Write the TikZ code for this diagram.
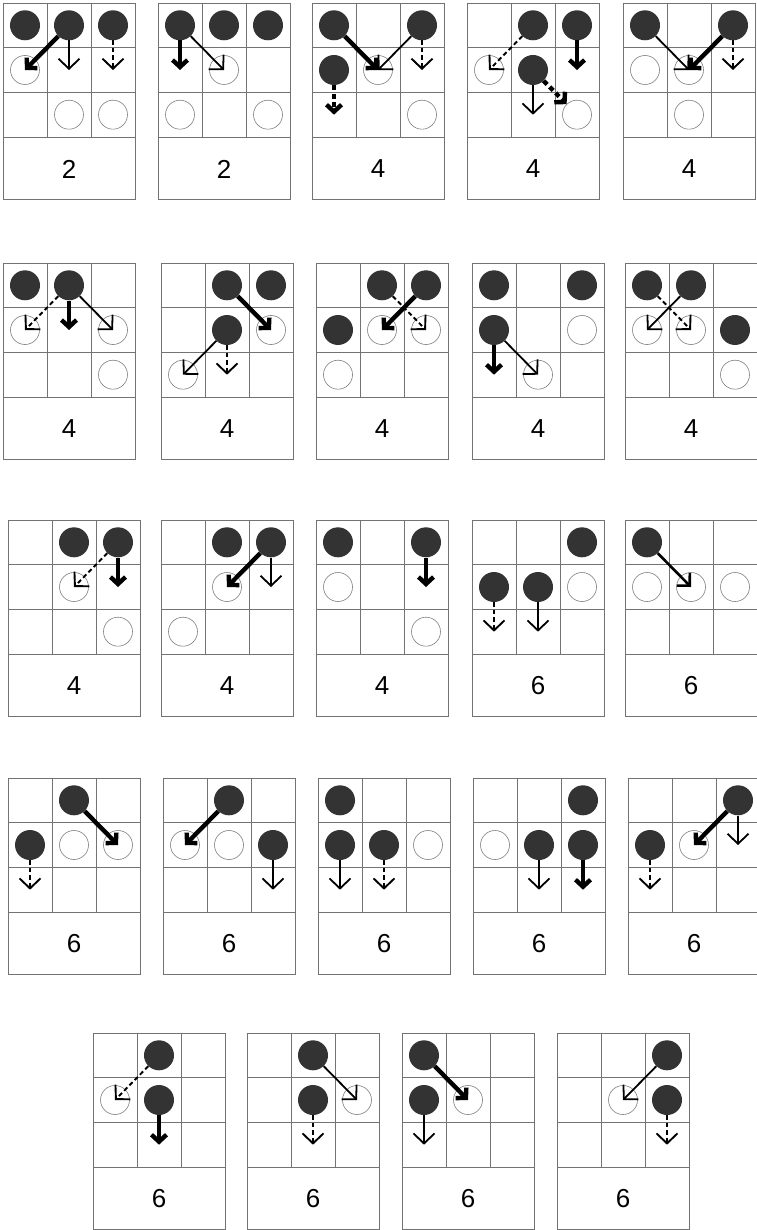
\documentclass[tikz,border=0pt]{standalone}
\usepackage{fontspec}
\setmainfont{Liberation Sans}
\usetikzlibrary{arrows.meta}
\tikzset{
  gridline/.style={draw=black!55,line width=0.8pt},
  bcirc/.style={circle,fill=black!80,minimum size=30pt,inner sep=0pt},
  wcirc/.style={circle,draw=black!50,line width=0.6pt,fill=white,minimum size=29pt,inner sep=0pt},
  lbl/.style={font=\fontsize{26}{30}\selectfont},
  thk/.style={line width=4.4pt,-{Straight Barb[length=7pt,width=15pt]}},
  med/.style={line width=2.6pt,-{Straight Barb[length=9pt,width=18pt]}},
  thn/.style={line width=1.8pt,-{Straight Barb[length=10pt,width=21pt]}},
  dsh/.style={line width=1.9pt,dash pattern=on 4.5pt off 3pt,-{Straight Barb[length=10pt,width=21pt]}},
  tdsh/.style={line width=4.4pt,dash pattern=on 5pt off 3.5pt,-{Straight Barb[length=7pt,width=15pt]}},
}
\newcommand\pgrid[1]{%
  \draw[gridline] (0,0) rectangle (132,196);
  \draw[gridline] (44,0) -- (44,134) (88,0) -- (88,134)
    (0,44.5) -- (132,44.5) (0,89) -- (132,89) (0,134) -- (132,134);
  \foreach \i in {0,1,2}{\foreach \j in {0,1,2}{%
    \coordinate (c\i\j) at ({22+44*\i},{22.3+44.7*\j});}}
  \node[lbl] (num) at (66,166) {#1};
}
\newcommand\Bk[2]{\node[bcirc] (b#1#2) at (c#1#2) {};}
\newcommand\Wh[2]{\node[wcirc] (w#1#2) at (c#1#2) {};}
\begin{document}
\begin{tikzpicture}[x=1pt,y=-1pt]
\fill[white] (0,0) rectangle (756,1230);
\useasboundingbox (0,0) rectangle (756,1230);
% ---------- row 1
\begin{scope}[shift={(3,3)},name prefix=p1-]\pgrid{2}
 \Wh01\Wh12\Wh22 \Bk00\Bk10\Bk20
 \draw[thk] (b10) -- (c01); \draw[thn] (b10) -- (c11); \draw[dsh] (b20) -- (c21);
\end{scope}
\begin{scope}[shift={(158,3)},name prefix=p2-]\pgrid{2}
 \Wh11\Wh02\Wh22 \Bk00\Bk10\Bk20
 \draw[thk] (b00) -- (c01); \draw[thn] (b00) -- (c11);
\end{scope}
\begin{scope}[shift={(312,3)},name prefix=p3-]\pgrid{4}
 \Wh11\Wh22 \Bk00\Bk20\Bk01
 \draw[thk] (b00) -- (c11); \draw[thn] (b20) -- (c11); \draw[dsh] (b20) -- (c21);
 \draw[tdsh] (b01) -- (c02);
\end{scope}
\begin{scope}[shift={(467,3)},name prefix=p4-]\pgrid{4}
 \Wh01\Wh22 \Bk10\Bk20\Bk11
 \draw[dsh] (b10) -- (c01); \draw[thk] (b20) -- (c21); \draw[thn] (b11) -- (c12);
 \draw[tdsh] (b11) -- (w22);
\end{scope}
\begin{scope}[shift={(623,3)},name prefix=p5-]\pgrid{4}
 \Wh01\Wh11\Wh12 \Bk00\Bk20
 \draw[thn] (b00) -- (c11); \draw[thk] (b20) -- (c11); \draw[dsh] (b20) -- (c21);
\end{scope}
% ---------- row 2
\begin{scope}[shift={(3,263)},name prefix=p6-]\pgrid{4}
 \Wh01\Wh21\Wh22 \Bk00\Bk10
 \draw[dsh] (b10) -- (c01); \draw[thk] (b10) -- (c11); \draw[thn] (b10) -- (c21);
\end{scope}
\begin{scope}[shift={(161,263)},name prefix=p7-]\pgrid{4}
 \Wh21\Wh02 \Bk10\Bk20\Bk11
 \draw[thk] (b10) -- (c21); \draw[thn] (b11) -- (c02); \draw[dsh] (b11) -- (c12);
\end{scope}
\begin{scope}[shift={(316,263)},name prefix=p8-]\pgrid{4}
 \Wh11\Wh21\Wh02 \Bk10\Bk20\Bk01
 \draw[dsh] (b10) -- (c21); \draw[thk] (b20) -- (c11);
\end{scope}
\begin{scope}[shift={(472,263)},name prefix=p9-]\pgrid{4}
 \Wh21\Wh12 \Bk00\Bk20\Bk01
 \draw[thk] (b01) -- (c02); \draw[thn] (b01) -- (c12);
\end{scope}
\begin{scope}[shift={(625,263)},name prefix=p10-]\pgrid{4}
 \Wh01\Wh11\Wh22 \Bk00\Bk10\Bk21
 \draw[dsh] (b00) -- (c11); \draw[thn] (b10) -- (c01);
\end{scope}
% ---------- row 3
\begin{scope}[shift={(8,520)},name prefix=p11-]\pgrid{4}
 \Wh11\Wh22 \Bk10\Bk20
 \draw[dsh] (b20) -- (c11); \draw[thk] (b20) -- (c21);
\end{scope}
\begin{scope}[shift={(161,520)},name prefix=p12-]\pgrid{4}
 \Wh11\Wh02 \Bk10\Bk20
 \draw[thk] (b20) -- (c11); \draw[thn] (b20) -- (c21);
\end{scope}
\begin{scope}[shift={(316,520)},name prefix=p13-]\pgrid{4}
 \Wh01\Wh22 \Bk00\Bk20
 \draw[thk] (b20) -- (c21);
\end{scope}
\begin{scope}[shift={(472,520)},name prefix=p14-]\pgrid{6}
 \Wh21 \Bk20\Bk01\Bk11
 \draw[dsh] (b01) -- (c02); \draw[thn] (b11) -- (c12);
\end{scope}
\begin{scope}[shift={(625,520)},name prefix=p15-]\pgrid{6}
 \Wh01\Wh11\Wh21 \Bk00
 \draw[med] (b00) -- (c11);
\end{scope}
% ---------- row 4
\begin{scope}[shift={(8,778)},name prefix=p16-]\pgrid{6}
 \Wh11\Wh21 \Bk10\Bk01
 \draw[thk] (b10) -- (c21); \draw[dsh] (b01) -- (c02);
\end{scope}
\begin{scope}[shift={(163,778)},name prefix=p17-]\pgrid{6}
 \Wh01\Wh11 \Bk10\Bk21
 \draw[thk] (b10) -- (c01); \draw[thn] (b21) -- (c22);
\end{scope}
\begin{scope}[shift={(318,778)},name prefix=p18-]\pgrid{6}
 \Wh21 \Bk00\Bk01\Bk11
 \draw[thn] (b01) -- (c02); \draw[dsh] (b11) -- (c12);
\end{scope}
\begin{scope}[shift={(473,778)},name prefix=p19-]\pgrid{6}
 \Wh01 \Bk20\Bk11\Bk21
 \draw[thn] (b11) -- (c12); \draw[thk] (b21) -- (c22);
\end{scope}
\begin{scope}[shift={(628,778)},name prefix=p20-]\pgrid{6}
 \Wh11 \Bk20\Bk01
 \draw[thk] (b20) -- (c11); \draw[thn] (b20) -- (c21); \draw[dsh] (b01) -- (c02);
\end{scope}
% ---------- row 5
\begin{scope}[shift={(93,1033)},name prefix=p21-]\pgrid{6}
 \Wh01 \Bk10\Bk11
 \draw[dsh] (b10) -- (c01); \draw[thk] (b11) -- (c12);
\end{scope}
\begin{scope}[shift={(247,1033)},name prefix=p22-]\pgrid{6}
 \Wh21 \Bk10\Bk11
 \draw[thn] (b10) -- (c21); \draw[dsh] (b11) -- (c12);
\end{scope}
\begin{scope}[shift={(402,1033)},name prefix=p23-]\pgrid{6}
 \Wh11 \Bk00\Bk01
 \draw[thk] (b00) -- (c11); \draw[thn] (b01) -- (c02);
\end{scope}
\begin{scope}[shift={(557,1033)},name prefix=p24-]\pgrid{6}
 \Wh11 \Bk20\Bk21
 \draw[thn] (b20) -- (c11); \draw[dsh] (b21) -- (c22);
\end{scope}
\end{tikzpicture}
\end{document}
